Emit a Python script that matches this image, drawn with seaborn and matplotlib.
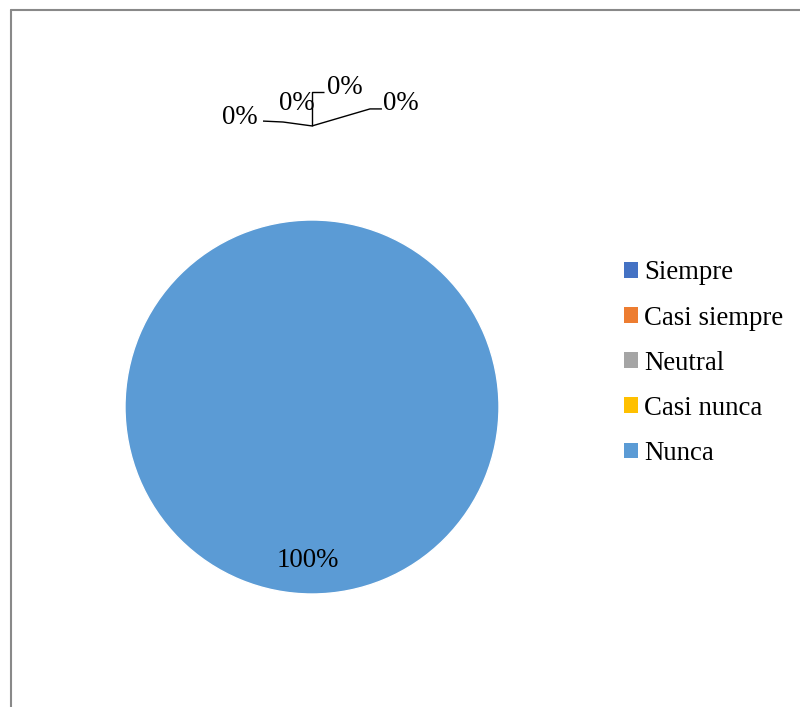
import matplotlib
matplotlib.use("Agg")
import matplotlib.pyplot as plt
from matplotlib.lines import Line2D
from matplotlib.patches import Patch
import seaborn as sns

categories = ["Siempre", "Casi siempre", "Neutral", "Casi nunca", "Nunca"]
values = [0, 0, 0, 0, 100]
colors_hex = ["#4472C4", "#ED7D31", "#A5A5A5", "#FFC000", "#5B9BD5"]

sns.set_theme(style="white")
plt.rcParams["font.family"] = ["Liberation Serif", "DejaVu Serif"]
plt.rcParams["text.color"] = "black"
palette = sns.color_palette(colors_hex)

W, H, DPI = 800, 707, 100
fig = plt.figure(figsize=(W / DPI, H / DPI), dpi=DPI)
ax = fig.add_axes([0, 0, 1, 1])

# pie geometry in pixels
cx, cy, r = 312, 407, 187

wedges, _ = ax.pie(values, colors=palette, startangle=90, counterclock=False,
                   radius=1.0, center=(0, 0), frame=True)
ax.set_xlim(-cx / r, (W - cx) / r)
ax.set_ylim(-(H - cy) / r, cy / r)
ax.set_aspect("equal")
ax.axis("off")

total = sum(values)
labels = [f"{v / total:.0%}" for v in values]

fs = 19.3
line_kw = dict(color="black", lw=1.0, solid_capstyle="butt")
hub = (0.0, 1.503)
# leader lines for the zero-width slices
leaders = [
    [(-0.262, 1.529), (-0.155, 1.524), hub],
    [hub, (0.0, 1.684), (0.064, 1.684)],
    [hub, (0.310, 1.594), (0.374, 1.594)],
]
for pts in leaders:
    xs, ys = zip(*pts)
    ax.plot(xs, ys, **line_kw)

label_pos = [(-0.290, 1.550, "right"), (-0.080, 1.625, "center"),
             (0.176, 1.706, "center"), (0.476, 1.625, "center"),
             (-0.021, -0.820, "center")]
for lab, (x, y, ha) in zip(labels, label_pos):
    ax.text(x, y, lab, ha=ha, va="center", fontsize=fs, color="black")

handles = [Patch(facecolor=c, edgecolor="none") for c in palette]
fig.legend(handles, categories, loc="upper left",
           bbox_to_anchor=(611 / W, 1 - 247 / H), frameon=False,
           fontsize=fs, handlelength=0.52, handleheight=0.52,
           handletextpad=0.22, labelspacing=0.75, borderpad=0,
           labelcolor="black")

# outer frame (top and left edges)
frame_kw = dict(color="#898989", lw=1.5, transform=fig.transFigure)
fig.add_artist(Line2D([10.5 / W, 10.5 / W], [0, 1 - 9.5 / H], **frame_kw))
fig.add_artist(Line2D([10.5 / W, 1], [1 - 9.5 / H, 1 - 9.5 / H], **frame_kw))

fig.savefig("out.png", dpi=DPI, facecolor="white")
